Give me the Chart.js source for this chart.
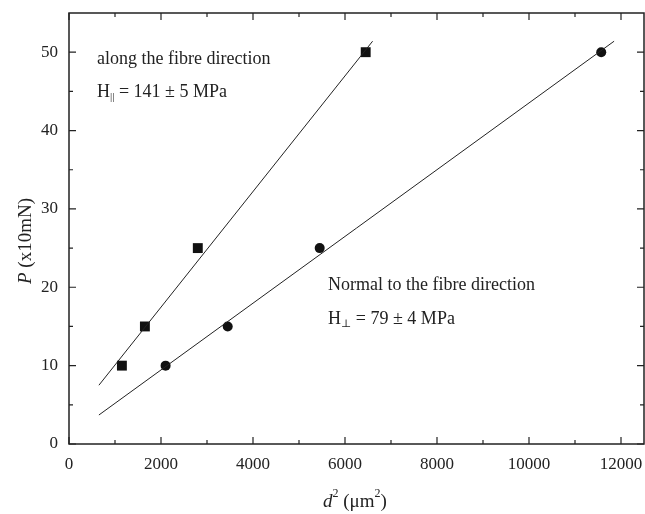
<!DOCTYPE html>
<html>
<head>
<meta charset="utf-8">
<script src="https://cdn.jsdelivr.net/npm/chart.js@4.4.1/dist/chart.umd.min.js"></script>
<style>
  html, body { margin: 0; padding: 0; background: #fff; }
  #wrap { width: 645px; height: 514px; }
</style>
</head>
<body>
<div id="wrap"><canvas id="hardness"></canvas></div>
<script>
const alongD2 = [1150, 1650, 2800, 6450];
const alongP = [10, 15, 25, 50];
const normalD2 = [2100, 3450, 5450, 11570];
const normalP = [10, 15, 25, 50];

// fitted lines, end points
const alongFitD2 = [650, 6600];
const alongFitP = [7.5, 51.4];
const normalFitD2 = [650, 11850];
const normalFitP = [3.7, 51.4];

const xTickValues = [0, 2000, 4000, 6000, 8000, 10000, 12000];
const xMinorValues = [1000, 3000, 5000, 7000, 9000, 11000];
const yTickValues = [0, 10, 20, 30, 40, 50];
const yMinorValues = [5, 15, 25, 35, 45];

const serif = '"Liberation Serif", "DejaVu Serif", serif';

function toPoints(xs, ys) {
    return xs.map((x, i) => ({ x: x, y: ys[i] }));
}

function noPad(scale) {
    scale.paddingTop = 0; scale.paddingBottom = 0;
    scale.paddingLeft = 0; scale.paddingRight = 0;
}

// frame, inward ticks on all sides, axis titles and notes
const framePlugin = {
    id: 'frame',
    afterDraw(chart) {
        const ctx = chart.ctx;
        const a = chart.chartArea;
        const xs = chart.scales.x;
        const ys = chart.scales.y;
        ctx.save();
        ctx.strokeStyle = '#222';
        ctx.lineWidth = 1.5;
        ctx.strokeRect(a.left, a.top, a.right - a.left, a.bottom - a.top);

        ctx.lineWidth = 1.2;
        ctx.beginPath();
        const xt = (vals, len) => vals.forEach(v => {
            const px = xs.getPixelForValue(v);
            ctx.moveTo(px, a.bottom); ctx.lineTo(px, a.bottom - len);
            ctx.moveTo(px, a.top); ctx.lineTo(px, a.top + len);
        });
        const yt = (vals, len) => vals.forEach(v => {
            const py = ys.getPixelForValue(v);
            ctx.moveTo(a.left, py); ctx.lineTo(a.left + len, py);
            ctx.moveTo(a.right, py); ctx.lineTo(a.right - len, py);
        });
        xt(xTickValues, 7); xt(xMinorValues, 4);
        yt(yTickValues, 7); yt(yMinorValues, 4);
        ctx.stroke();

        ctx.fillStyle = '#222';
        ctx.textBaseline = 'alphabetic';

        // y title: P (x10mN)
        ctx.save();
        ctx.translate(31, 241);
        ctx.rotate(-Math.PI / 2);
        ctx.font = 'italic 19px ' + serif;
        const w1 = ctx.measureText('P').width;
        ctx.font = '19px ' + serif;
        const w2 = ctx.measureText(' (x10mN)').width;
        let sx = -(w1 + w2) / 2;
        ctx.font = 'italic 19px ' + serif;
        ctx.fillText('P', sx, 0);
        ctx.font = '19px ' + serif;
        ctx.fillText(' (x10mN)', sx + w1, 0);
        ctx.restore();

        // x title: d² (μm²)
        let tx = 323, ty = 507;
        ctx.font = 'italic 19px ' + serif;
        ctx.fillText('d', tx, ty);
        tx += ctx.measureText('d').width;
        ctx.font = '12px ' + serif;
        ctx.fillText('2', tx, ty - 10);
        tx += ctx.measureText('2').width;
        ctx.font = '19px ' + serif;
        ctx.fillText(' (\u03BCm', tx, ty);
        tx += ctx.measureText(' (\u03BCm').width;
        ctx.font = '12px ' + serif;
        ctx.fillText('2', tx, ty - 10);
        tx += ctx.measureText('2').width;
        ctx.font = '19px ' + serif;
        ctx.fillText(')', tx, ty);

        // notes
        const hardness = (x, y, sub, rest) => {
            ctx.font = '18px ' + serif;
            ctx.fillText('H', x, y);
            let cx = x + ctx.measureText('H').width;
            ctx.font = '11px ' + serif;
            ctx.fillText(sub, cx, y + 3);
            cx += ctx.measureText(sub).width;
            ctx.font = '18px ' + serif;
            ctx.fillText(rest, cx, y);
        };
        ctx.font = '18px ' + serif;
        ctx.fillText('along the fibre direction', 97, 64);
        hardness(97, 97, '||', ' = 141 \u00B1 5 MPa');
        ctx.font = '18px ' + serif;
        ctx.fillText('Normal to the fibre direction', 328, 290);
        hardness(328, 324, '\u22A5', ' = 79 \u00B1 4 MPa');
        ctx.restore();
    }
};

const ctx = document.getElementById('hardness').getContext('2d');
new Chart(ctx, {
    type: 'scatter',
    data: {
        datasets: [
            {
                data: toPoints(alongFitD2, alongFitP),
                showLine: true, borderColor: '#222', borderWidth: 1,
                pointRadius: 0, fill: false
            },
            {
                data: toPoints(normalFitD2, normalFitP),
                showLine: true, borderColor: '#222', borderWidth: 1,
                pointRadius: 0, fill: false
            },
            {
                data: toPoints(alongD2, alongP),
                pointStyle: 'rect', pointRadius: 7,
                backgroundColor: '#111', borderColor: '#111', borderWidth: 0
            },
            {
                data: toPoints(normalD2, normalP),
                pointStyle: 'circle', pointRadius: 5,
                backgroundColor: '#111', borderColor: '#111', borderWidth: 0
            }
        ]
    },
    options: {
        responsive: true,
        maintainAspectRatio: false,
        animation: false,
        layout: { autoPadding: false, padding: { left: 0, right: 1, top: 13, bottom: 0 } },
        plugins: { legend: { display: false }, tooltip: { enabled: false } },
        scales: {
            x: {
                type: 'linear', min: 0, max: 12500,
                afterBuildTicks: (scale) => { scale.ticks = xTickValues.map(v => ({ value: v })); },
                afterFit: (scale) => { scale.height = 70; noPad(scale); },
                grid: { display: false, drawTicks: false },
                border: { display: false },
                ticks: {
                    color: '#222', padding: 10, maxRotation: 0,
                    font: { family: serif, size: 17 },
                    callback: (v) => String(v)
                }
            },
            y: {
                type: 'linear', min: 0, max: 55,
                afterBuildTicks: (scale) => { scale.ticks = yTickValues.map(v => ({ value: v })); },
                afterFit: (scale) => { scale.width = 69; noPad(scale); },
                grid: { display: false, drawTicks: false },
                border: { display: false },
                ticks: {
                    color: '#222', padding: 11,
                    font: { family: serif, size: 17 },
                    callback: (v) => String(v)
                }
            }
        }
    },
    plugins: [framePlugin]
});
</script>
</body>
</html>
